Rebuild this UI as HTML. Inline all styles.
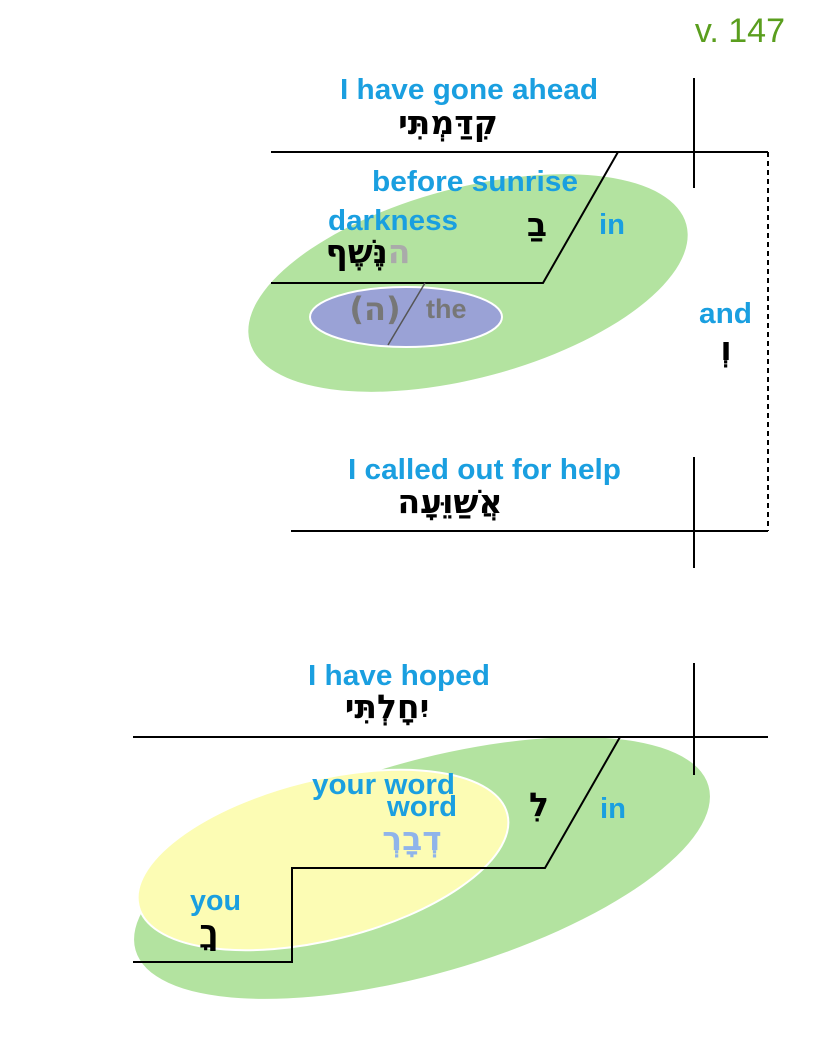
<!DOCTYPE html>
<html><head><meta charset="utf-8"><style>
html,body{margin:0;padding:0;background:#fff;}
svg{display:block;}
.b{font-family:"Liberation Sans",sans-serif;font-weight:bold;fill:#1a9fe0;font-size:29px;}
.h{font-family:"DejaVu Sans","Liberation Sans",sans-serif;font-weight:bold;fill:#000;font-size:33px;}
</style></head><body>
<svg width="825" height="1052" viewBox="0 0 825 1052" xmlns="http://www.w3.org/2000/svg">
<text x="785" y="42" text-anchor="end" font-family="Liberation Sans,sans-serif" font-size="34" fill="#5a9e1e">v. 147</text>

<ellipse cx="468" cy="283" rx="226" ry="95" transform="rotate(-15 468 283)" fill="#b3e3a0"/>
<ellipse cx="406" cy="317" rx="96" ry="30" fill="#9aa2d6" stroke="#fff" stroke-width="2"/>

<g stroke="#000" stroke-width="2" fill="none">
<line x1="271" y1="152" x2="768" y2="152"/>
<line x1="694" y1="78" x2="694" y2="188"/>
<polyline points="618,152 543,283 271,283"/>
<line x1="291" y1="531" x2="768" y2="531"/>
<line x1="694" y1="457" x2="694" y2="568"/>
<line x1="768" y1="152" x2="768" y2="531" stroke-dasharray="5,4"/>
</g>
<line x1="425" y1="283" x2="388" y2="345" stroke="#555" stroke-width="1.5"/>

<text class="b" x="340" y="99" textLength="258" lengthAdjust="spacingAndGlyphs">I have gone ahead</text>
<text class="h" x="448" y="134" text-anchor="middle" direction="rtl">קִדַּמְתִּי</text>
<text class="b" x="372" y="191" textLength="206" lengthAdjust="spacingAndGlyphs">before sunrise</text>
<text class="b" x="328" y="230" textLength="130" lengthAdjust="spacingAndGlyphs">darkness</text>
<text class="h" x="537" y="236" text-anchor="middle">בַ</text>
<text class="b" x="599" y="234" textLength="26" lengthAdjust="spacingAndGlyphs">in</text>
<text class="h" x="368" y="263" text-anchor="middle" direction="rtl"><tspan fill="#aaa">ה</tspan>נֶּשֶׁף</text>
<text x="375" y="320" text-anchor="middle" font-family="DejaVu Sans,sans-serif" font-weight="bold" font-size="32" fill="#777">(ה)</text>
<text x="426" y="318" font-family="Liberation Sans,sans-serif" font-weight="bold" font-size="27" fill="#777">the</text>
<text class="b" x="699" y="323" textLength="53" lengthAdjust="spacingAndGlyphs">and</text>
<text class="h" x="726" y="360" text-anchor="middle">וְ</text>
<text class="b" x="348" y="479" textLength="273" lengthAdjust="spacingAndGlyphs">I called out for help</text>
<text class="h" x="450" y="513" text-anchor="middle" direction="rtl">אֲשַׁוֵּעָה</text>

<ellipse cx="422" cy="868" rx="298" ry="106" transform="rotate(-16 422 868)" fill="#b3e3a0"/>
<ellipse cx="323" cy="860" rx="190" ry="80" transform="rotate(-14 323 860)" fill="#fcfcb4" stroke="#fff" stroke-width="2"/>

<g stroke="#000" stroke-width="2" fill="none">
<line x1="133" y1="737" x2="768" y2="737"/>
<line x1="694" y1="663" x2="694" y2="775"/>
<polyline points="620,737 545,868 292,868 292,962 133,962"/>
</g>

<text class="b" x="308" y="685" textLength="182" lengthAdjust="spacingAndGlyphs">I have hoped</text>
<text class="h" x="387" y="718" text-anchor="middle" direction="rtl">יִחָלְתִּי</text>
<text class="b" x="312" y="794" textLength="143" lengthAdjust="spacingAndGlyphs">your word</text>
<text class="b" x="387" y="816" textLength="70" lengthAdjust="spacingAndGlyphs">word</text>
<text class="h" x="412" y="850" text-anchor="middle" style="fill:#8fb4ea" direction="rtl">דְבָרְ</text>
<text class="h" x="539" y="816" text-anchor="middle">לִ</text>
<text class="b" x="600" y="818" textLength="26" lengthAdjust="spacingAndGlyphs">in</text>
<text class="b" x="190" y="910" textLength="51" lengthAdjust="spacingAndGlyphs">you</text>
<text class="h" x="209" y="943" text-anchor="middle">ךָ</text>
</svg>
</body></html>
